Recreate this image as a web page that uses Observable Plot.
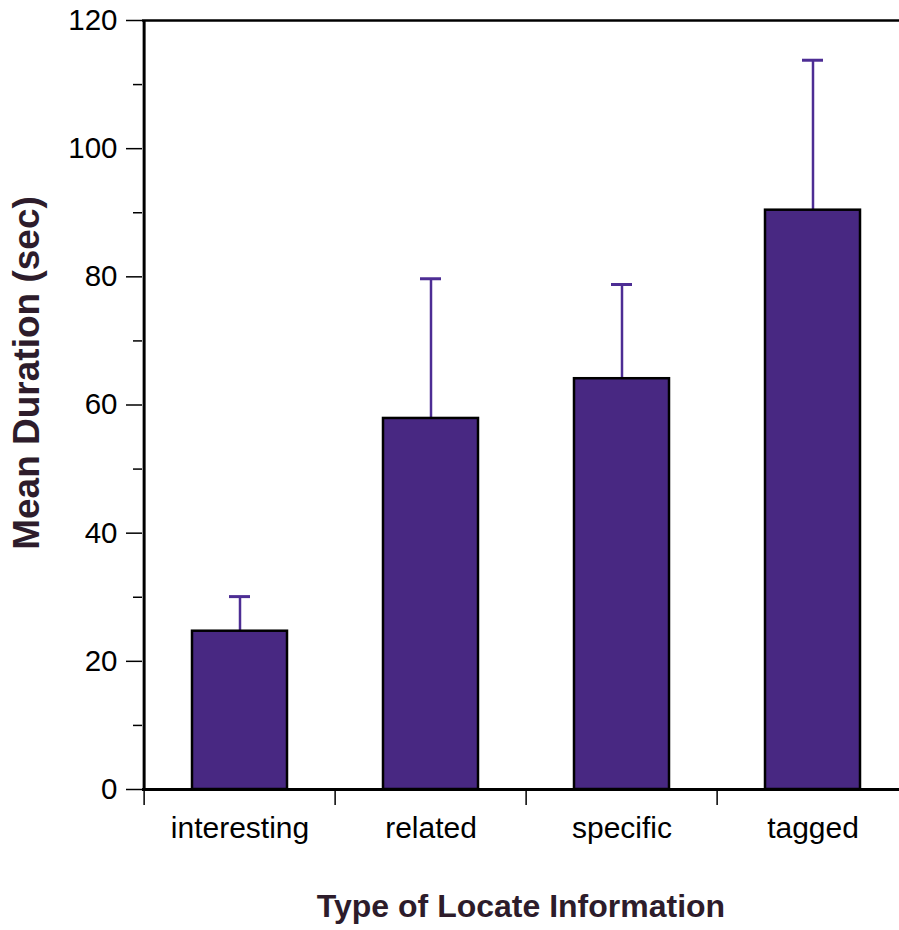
<!DOCTYPE html>
<html>
<head>
<meta charset="utf-8">
<script src="https://cdn.jsdelivr.net/npm/d3@7"></script>
<script src="https://cdn.jsdelivr.net/npm/@observablehq/plot@0.6"></script>
<style>
  html, body { margin: 0; padding: 0; background: white; overflow: hidden; }
  #chart svg { display: block; }
</style>
</head>
<body>
<div id="chart"></div>
<script>
const categories = ["interesting", "related", "specific", "tagged"];
const means = [24.7, 57.9, 64.1, 90.4];
const upper = [30.1, 79.7, 78.8, 113.8];
const yTicks = [0, 20, 40, 60, 80, 100, 120];
const yMinorTicks = [10, 30, 50, 70, 90, 110];
const xTitle = "Type of Locate Information";
const yTitle = "Mean Duration (sec)";

const data = categories.map((c, i) => ({cat: c, mean: means[i], upper: upper[i]}));

const W = 899, H = 930;
const plotLeft = 142, plotRightEnd = 909, plotTop = 20, plotBottom = 789;
const step = (plotRightEnd - plotLeft) / categories.length;
const barFill = "#482882";
const errColor = "#4d2d94";
const titleColor = "#2d1c2b";
const font = "'Liberation Sans', Arial, Helvetica, sans-serif";

const chart = Plot.plot({
  width: W,
  height: H,
  marginTop: plotTop,
  marginBottom: H - plotBottom,
  marginLeft: plotLeft,
  marginRight: 0,
  style: {fontFamily: font, background: "white", color: "black", overflow: "visible"},
  x: {domain: categories, range: [plotLeft, plotRightEnd], padding: 0},
  y: {domain: [0, 120], range: [plotBottom, plotTop]},
  marks: [
    Plot.ruleX(data, {x: "cat", y1: "mean", y2: "upper", stroke: errColor, strokeWidth: 2.5}),
    Plot.tickY(data, {x: "cat", y: "upper", stroke: errColor, strokeWidth: 3, insetLeft: 85, insetRight: 85}),
    Plot.barY(data, {x: "cat", y: "mean", fill: barFill, stroke: "black", strokeWidth: 2.5, insetLeft: 48, insetRight: 48}),
    Plot.ruleY([0], {stroke: "black", strokeWidth: 3}),
    Plot.ruleY([120], {stroke: "black", strokeWidth: 2.5}),
    Plot.ruleX([categories[0]], {x: d => d, y1: 0, y2: 120, dx: -step / 2, stroke: "black", strokeWidth: 3}),
    Plot.axisY({ticks: yTicks, tickSize: 16, tickPadding: 9, tickFormat: d => String(d), fontSize: 29.5, strokeWidth: 1.5, label: null, fill: "black"}),
    Plot.axisY({ticks: yMinorTicks, tickSize: 9, text: null, strokeWidth: 1.5, label: null}),
    Plot.axisX({tickSize: 16, text: null, dx: -step / 2, strokeWidth: 1.5, label: null}),
    Plot.axisX({tickSize: 0, tickPadding: 27, fontSize: 30, label: null, fill: "black"}),
    Plot.text([xTitle], {frameAnchor: "bottom", dy: 127, text: d => d, fontSize: 32, fontWeight: "bold", fill: titleColor, textAnchor: "middle"}),
    Plot.text([yTitle], {frameAnchor: "left", dx: -115, dy: -32, rotate: -90, text: d => d, fontSize: 37, fontWeight: "bold", fill: titleColor, textAnchor: "middle"})
  ]
});
document.getElementById("chart").appendChild(chart);
</script>
</body>
</html>
